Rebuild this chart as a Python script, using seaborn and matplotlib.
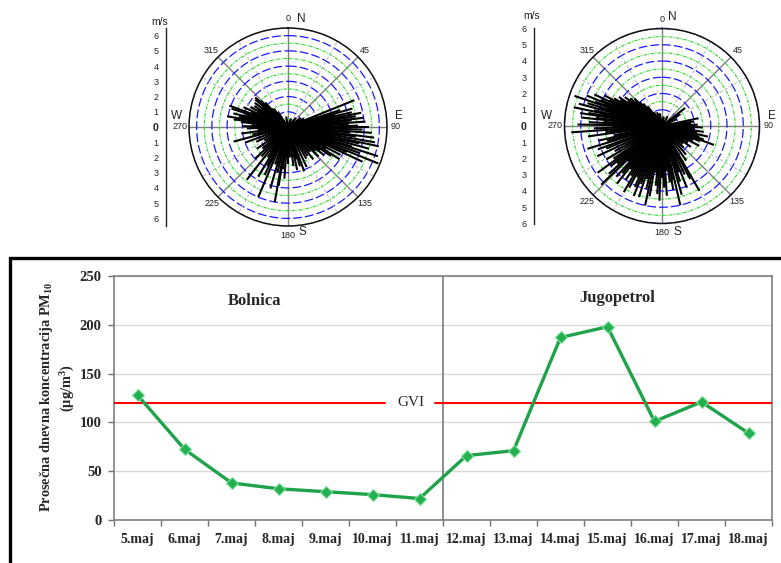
import numpy as np
import pandas as pd
import matplotlib
matplotlib.use("Agg")
import matplotlib.pyplot as plt
from matplotlib.patches import Rectangle
import seaborn as sns

# ---------------- data ----------------
days = ["5.maj", "6.maj", "7.maj", "8.maj", "9.maj", "10.maj", "11.maj",
        "12.maj", "13.maj", "14.maj", "15.maj", "16.maj", "17.maj", "18.maj"]
pm10 = [128, 72.5, 38, 32, 29, 26, 22, 66, 71, 187, 198, 101, 121, 89]
gvi = 120
site_names = ["Bolnica", "Jugopetrol"]

compass_angles = [0, 45, 90, 135, 180, 225, 270, 315]

# wind direction (deg) / speed (m/s), Bolnica
bolnica_dir = [68, 72, 74, 76, 77, 78, 79, 80, 81, 82, 83, 84, 85, 86, 87, 88, 89, 90,
               91, 92, 93, 94, 95, 96, 97, 98, 99, 100, 101, 102, 103, 104, 105, 106,
               107, 108, 109, 110, 111, 112, 113, 114, 115, 116, 118, 120, 122, 124,
               126, 128, 131, 134, 138, 142, 146,
               150, 155, 160, 163, 165, 168, 172, 176, 180,
               184, 187, 189, 190, 193, 196, 199, 203, 206, 208, 211, 214, 218, 222,
               226, 230, 235, 240,
               245, 250, 255, 258, 262, 265, 268, 271, 273,
               276, 278, 280, 282, 284, 286, 288, 290, 292, 294, 296, 298, 300, 302,
               304, 306, 308, 310, 311, 312, 313, 314, 315, 317, 319, 322, 326,
               20, 40, 55, 62, 350]
bolnica_speed = [4.7, 3.6, 4.4, 3.2, 4.3, 3.0, 4.9, 3.8, 4.5, 2.6, 5.0, 4.2, 3.5, 5.1,
                 4.0, 2.8, 4.6, 5.3, 3.4, 4.9, 2.5, 5.5, 4.1, 3.1, 5.7, 4.5, 3.6, 5.8,
                 2.9, 6.1, 4.8, 3.7, 5.5, 3.0, 4.4, 6.2, 3.5, 5.0, 2.6, 6.4, 4.2, 3.3,
                 5.4, 2.8, 3.9, 2.9, 4.0, 3.4, 2.6, 3.0, 2.4, 2.8, 2.2, 2.7, 2.3,
                 2.4, 2.9, 3.1, 2.7, 2.2, 2.9, 2.6, 2.0, 2.4,
                 3.4, 2.8, 3.9, 5.0, 3.1, 4.2, 2.6, 5.0, 3.5, 2.9, 3.8, 2.4, 4.4, 2.6,
                 3.0, 2.2, 2.5, 1.8,
                 2.3, 3.0, 3.7, 2.4, 3.1, 2.0, 2.7, 3.0, 2.4,
                 3.1, 3.6, 4.05, 3.3, 3.7, 2.9, 3.9, 4.1, 2.6, 3.2, 2.2, 2.8, 2.3, 2.6,
                 1.9, 2.7, 2.1, 2.8, 2.4, 2.9, 2.0, 2.5, 1.9, 2.2, 1.6, 1.5, 1.2,
                 0.6, 0.8, 1.0, 1.2, 0.7]

# wind direction (deg) / speed (m/s), Jugopetrol
jugo_dir = [262, 264, 266, 268, 270, 271, 273, 274, 276, 277, 278, 279, 280, 281, 282,
            283, 284, 285, 286, 287, 288, 289, 290, 291, 292, 293, 294, 295, 296, 297,
            298, 299, 300, 302, 304, 306, 308, 310, 311, 313, 315, 317, 320, 324, 330,
            236, 239, 242, 245, 248, 250, 253, 255, 257, 259,
            150, 152, 155, 158, 160, 162, 164, 167, 169, 170, 172, 174, 176, 178, 180,
            182, 184, 186, 188, 190, 192, 194, 196, 198, 200, 202, 204, 206, 208, 210,
            212, 214, 216, 218, 220, 222, 224, 226, 228, 230, 232, 234,
            78, 82, 85, 88, 90, 92, 95, 98, 100, 103, 106, 108, 110, 112, 115, 118,
            122, 126, 130, 135, 140, 145,
            52, 57, 65, 30, 10, 350, 340]
jugo_speed = [4.6, 3.5, 5.6, 4.2, 3.0, 5.2, 4.5, 3.6, 5.0, 4.1, 2.9, 5.1, 4.6, 3.8, 5.55,
              4.3, 3.3, 5.3, 4.0, 4.8, 3.5, 5.7, 4.4, 3.8, 5.0, 4.1, 3.2, 4.6, 3.6, 3.57,
              4.0, 2.9, 3.4, 3.0, 3.2, 2.6, 2.9, 2.5, 2.6, 2.3, 2.4, 2.0, 1.8, 1.5, 1.0,
              3.6, 4.0, 3.3, 4.4, 3.7, 4.2, 4.8, 3.5, 4.0, 3.0,
              4.6, 3.7, 3.3, 4.1, 3.0, 3.6, 4.4, 5.0, 3.4, 4.0, 3.5, 2.8, 4.3, 3.8, 3.2,
              4.6, 4.2, 3.7, 2.9, 4.4, 5.0, 4.0, 3.4, 4.6, 3.8, 4.65, 4.1, 3.5, 4.3, 4.7,
              3.6, 4.0, 3.3, 4.5, 3.8, 4.2, 3.0, 5.2, 4.4, 3.6, 4.0, 4.9,
              2.3, 2.0, 1.8, 2.2, 1.6, 2.5, 2.0, 2.6, 2.2, 2.9, 2.4, 2.7, 3.4, 2.5, 2.1, 2.6,
              1.9, 2.2, 1.7, 1.9, 2.3, 2.6,
              1.8, 1.35, 1.0, 0.7, 0.6, 0.8, 0.9]

# ---------------- style ----------------
sns.set_style("white")
plt.rcParams["font.family"] = ["Liberation Sans", "DejaVu Sans"]
plt.rcParams["mathtext.fontset"] = "custom"
plt.rcParams["mathtext.rm"] = "Liberation Serif:bold"
plt.rcParams["mathtext.bf"] = "Liberation Serif:bold"
plt.rcParams["mathtext.it"] = "Liberation Serif:bold"

W, H = 781, 563
fig = plt.figure(figsize=(W / 100, H / 100), dpi=100)
fig.patch.set_facecolor("white")


def px_rect(left, top, width, height):
    return [left / W, 1 - (top + height) / H, width / W, height / H]


def wind_rose(cx, cy, radius, rmax, scale_x, unit_xy, dirs, speeds, label_offsets):
    ax = fig.add_axes(px_rect(cx - radius, cy - radius, 2 * radius, 2 * radius),
                      projection="polar")
    ax.set_theta_zero_location("N")
    ax.set_theta_direction(-1)
    ax.set_ylim(0, rmax)
    ax.set_yticks([])
    ax.yaxis.grid(False)

    theta = np.linspace(0, 2 * np.pi, 721)
    for r in np.arange(0.5, rmax + 0.01, 0.5):
        if abs(r - round(r)) < 1e-9:
            ax.plot(theta, np.full_like(theta, r), color="#1a1aff", lw=0.9,
                    ls=(0, (7, 2.5)), zorder=1)
        else:
            ax.plot(theta, np.full_like(theta, r), color="#22dd22", lw=0.8,
                    ls=(0, (3, 1.2, 1, 1.2)), zorder=1)

    # faint spokes every 30 degrees
    for a in range(0, 360, 30):
        if a % 45:
            ax.plot([np.deg2rad(a)] * 2, [0, rmax], color="#bdbdbd", lw=0.8,
                    ls=(0, (3, 2)), zorder=1)

    ax.set_xticks(np.deg2rad(compass_angles))
    ax.set_xticklabels([str(a) for a in compass_angles])
    ax.tick_params(axis="x", labelsize=6.5, pad=-4, colors="#222222")
    ax.xaxis.grid(True, color="#808080", lw=1.0, ls="-")
    ax.spines["polar"].set_color("#111111")
    ax.spines["polar"].set_linewidth(1.1)

    ax.vlines(np.deg2rad(dirs), 0, speeds, colors="black", lw=1.5, zorder=3)

    for letter, (dx, dy) in zip("NESW", label_offsets):
        fig.text((cx + dx) / W, 1 - (cy + dy) / H, letter, fontsize=8.5,
                 ha="center", va="center", color="#222222")

    # speed scale on the left
    sax = fig.add_axes(px_rect(scale_x, cy - radius, 1, 2 * radius))
    sax.set_ylim(-rmax, rmax)
    sax.set_xticks([])
    for s in ["top", "right", "bottom"]:
        sax.spines[s].set_visible(False)
    sax.spines["left"].set_color("#222222")
    sax.spines["left"].set_linewidth(1.0)
    sax.patch.set_visible(False)
    ticks = list(range(-6, 7))
    sax.set_yticks(ticks)
    sax.set_yticklabels([str(abs(t)) for t in ticks])
    sax.set_yticks(np.arange(-6, 6.01, 0.5), minor=True)
    sax.tick_params(axis="y", which="major", length=4, width=0.8, labelsize=6.5,
                    pad=1.5, colors="#222222")
    sax.tick_params(axis="y", which="minor", length=2, width=0.6)
    for lab in sax.get_yticklabels():
        if lab.get_text() == "0":
            lab.set_fontweight("bold")
            lab.set_fontsize(7.5)
    fig.text(unit_xy[0] / W, 1 - unit_xy[1] / H, "m/s", fontsize=7.5,
             ha="center", va="center", color="#222222")
    return ax


wind_rose(288, 127, 99, 6.5, 166, (159.5, 21.7), bolnica_dir, bolnica_speed,
          [(13, -108), (111, -11), (14, 105), (-111, -11)])
wind_rose(662, 126, 97.5, 6.0, 534, (532, 16), jugo_dir, jugo_speed,
          [(10, -109), (110, -10), (15, 106), (-115, -10)])

# ---------------- PM10 line chart ----------------
green = "#1fa24a"
ax = fig.add_axes(px_rect(114, 276, 658, 244))
df = pd.DataFrame({"dan": np.arange(len(days)), "pm10": pm10})
sns.lineplot(data=df, x="dan", y="pm10", ax=ax, color=green, lw=2.4,
             marker="D", markersize=6, markerfacecolor="#22b050",
             markeredgecolor="#7ddf9a", markeredgewidth=0.8, sort=False, zorder=4)

ax.set_xlim(-0.5, len(days) - 0.5)
ax.set_ylim(0, 250)
ax.set_yticks(range(0, 251, 50))
ax.yaxis.grid(True, color="#d9d9d9", lw=1.0)
ax.xaxis.grid(False)
ax.set_xticks(np.arange(-0.5, len(days), 1))
ax.set_xticklabels([])
ax.set_xticks(np.arange(len(days)), minor=True)
ax.set_xticklabels(days, minor=True)
ax.tick_params(axis="x", which="major", direction="out", length=4, width=1,
               color="#707070", bottom=True)
ax.tick_params(axis="x", which="minor", length=0, pad=9, labelsize=10)
ax.tick_params(axis="y", direction="out", length=4, width=1, color="#707070",
               left=True, pad=5, labelsize=10.5)
for lab in ax.get_xticklabels(minor=True) + ax.get_yticklabels():
    lab.set_family("Liberation Serif")
    lab.set_fontweight("bold")
ax.set_xlabel("")
ax.set_ylabel("")
for s in ax.spines.values():
    s.set_color("#808080")
    s.set_linewidth(1.2)

# limit value line with its label
ax.plot([-0.5, 5.27], [gvi, gvi], color="#ff0000", lw=1.5, zorder=3)
ax.plot([6.34, len(days) - 0.5], [gvi, gvi], color="#ff0000", lw=1.5, zorder=3)
ax.text(5.82, gvi, "GVI", family="Liberation Serif", fontsize=11, ha="center",
        va="center")

# divider between the two sites
ax.axvline(6.5, color="#707070", lw=1.1, zorder=2)
ax.text(2.48, 224, site_names[0], family="Liberation Serif", fontweight="bold",
        fontsize=12, ha="center", va="center")
ax.text(10.2, 227, site_names[1], family="Liberation Serif", fontweight="bold",
        fontsize=12, ha="center", va="center")

fig.text(46.7 / W, 1 - 397 / H, "Prosečna dnevna koncentracija PM$_{10}$",
         family="Liberation Serif", fontweight="bold", fontsize=10.4, rotation=90,
         ha="center", va="center")
fig.text(68 / W, 1 - 388 / H, "(µg/m$^{3}$)", family="Liberation Serif",
         fontweight="bold", fontsize=10.4, rotation=90, ha="center", va="center")

# frame around the lower panel
fig.add_artist(Rectangle((10 / W, -0.05), 1.0, (H - 258) / H + 0.05,
                         transform=fig.transFigure, fill=False, lw=2.4,
                         ec="black", clip_on=False))

fig.savefig("out.png", dpi=100)
